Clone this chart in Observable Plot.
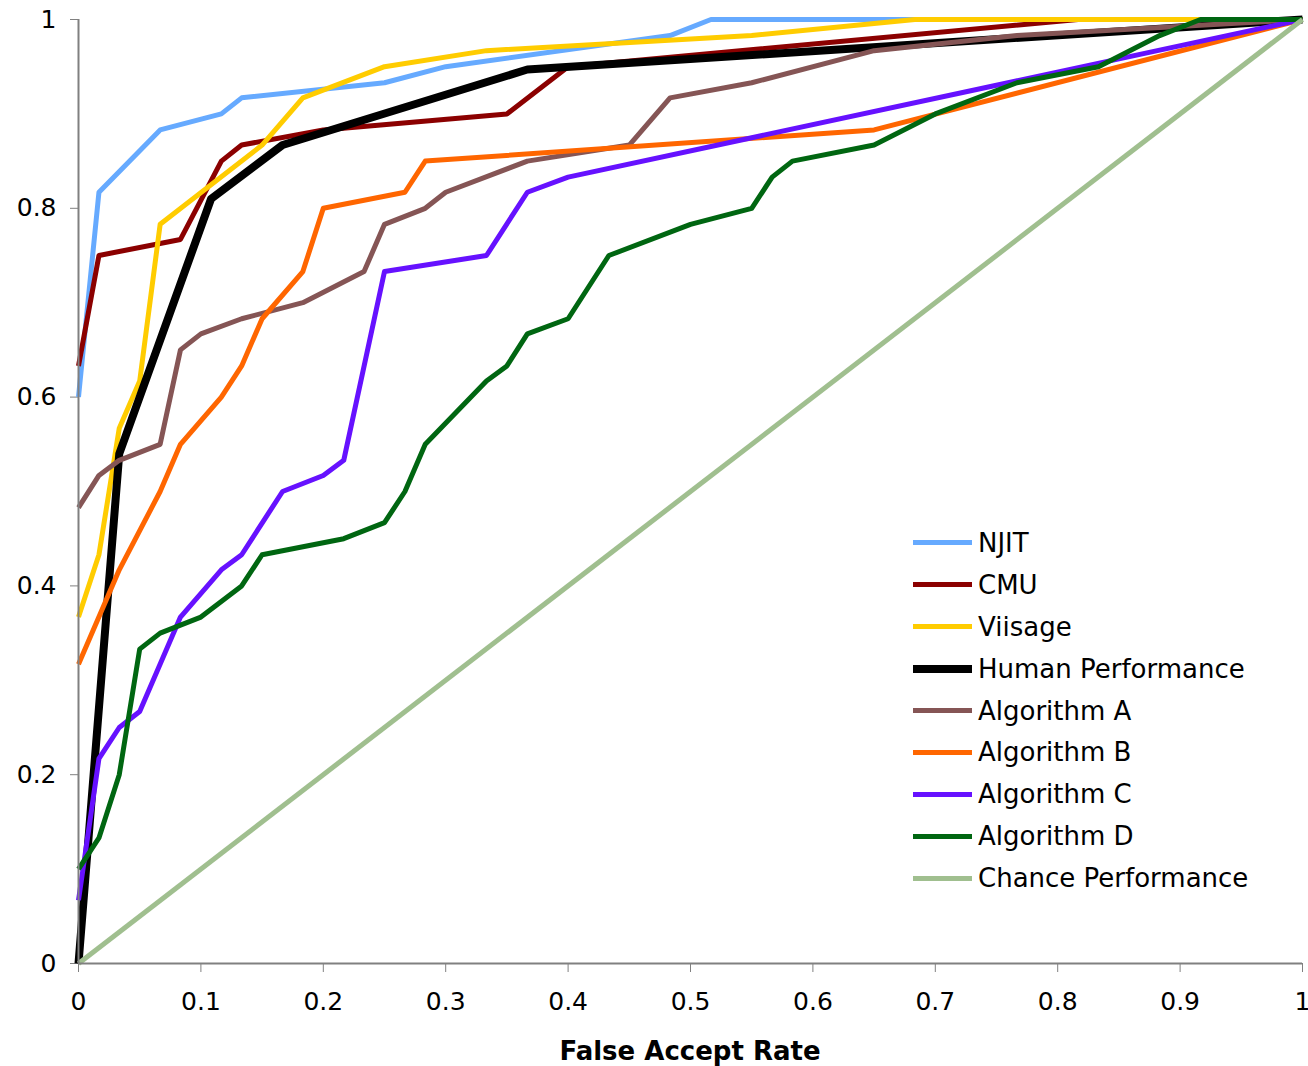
<!DOCTYPE html>
<html>
<head>
<meta charset="utf-8">
<script src="https://cdn.jsdelivr.net/npm/d3@7"></script>
<script src="https://cdn.jsdelivr.net/npm/@observablehq/plot@0.6"></script>
<style>
  html, body { margin: 0; padding: 0; background: #fff; }
  #wrap { position: relative; width: 1308px; height: 1066px; font-family: "DejaVu Sans", Verdana, sans-serif; }
  #xlabel { position: absolute; left: 78px; width: 1224px; top: 1034px; height: 34px; line-height: 34px; text-align: center; font-weight: bold; font-size: 26px; color: #000; }
  #legend { position: absolute; left: 913px; top: 522px; }
  .row { display: flex; align-items: center; height: 41.9px; }
  .sw { width: 59px; }
  .lab { margin-left: 6px; font-size: 26px; color: #000; white-space: nowrap; }
</style>
</head>
<body>
<div id="wrap">
  <div id="chart"></div>
  <div id="xlabel">False Accept Rate</div>
  <div id="legend"></div>
</div>
<script>
// ---- data ----
const seriesNames = ["NJIT", "CMU", "Viisage", "Human Performance", "Algorithm A", "Algorithm B", "Algorithm C", "Algorithm D", "Chance Performance"];
const seriesColors = ["#66AAFF", "#8B0000", "#FFCC00", "#000000", "#855555", "#FF6600", "#6611FF", "#006611", "#A0BF8F"];
const seriesWidths = [5, 5, 5, 8, 5, 5, 5, 5, 5];

const njitX = [0, 0.0167, 0.0667, 0.1167, 0.1333, 0.25, 0.3, 0.4833, 0.5167, 1];
const njitY = [0.6, 0.817, 0.883, 0.9, 0.917, 0.933, 0.95, 0.983, 1, 1];

const cmuX = [0, 0.0167, 0.0833, 0.1167, 0.1333, 0.2, 0.35, 0.4, 0.8167, 1];
const cmuY = [0.633, 0.75, 0.767, 0.85, 0.867, 0.883, 0.9, 0.95, 1, 1];

const viisageX = [0, 0.0167, 0.0333, 0.05, 0.0667, 0.15, 0.1833, 0.25, 0.3333, 0.55, 0.6833, 1];
const viisageY = [0.367, 0.433, 0.567, 0.617, 0.783, 0.867, 0.917, 0.95, 0.967, 0.983, 1, 1];

const humanX = [0, 0.0333, 0.1083, 0.1667, 0.3667, 1];
const humanY = [0, 0.54, 0.81, 0.867, 0.947, 1];

const algAX = [0, 0.0167, 0.0333, 0.0667, 0.0833, 0.1, 0.1333, 0.1833, 0.2333, 0.25, 0.2833, 0.3, 0.3667, 0.45, 0.4833, 0.55, 0.65, 0.7667, 1];
const algAY = [0.483, 0.517, 0.533, 0.55, 0.65, 0.667, 0.683, 0.7, 0.733, 0.783, 0.8, 0.817, 0.85, 0.867, 0.917, 0.933, 0.967, 0.983, 1];

const algBX = [0, 0.0333, 0.0667, 0.0833, 0.1167, 0.1333, 0.15, 0.1833, 0.2, 0.2667, 0.2833, 0.65, 1];
const algBY = [0.317, 0.417, 0.5, 0.55, 0.6, 0.633, 0.683, 0.733, 0.8, 0.817, 0.85, 0.883, 1];

const algCX = [0, 0.0167, 0.0333, 0.05, 0.0833, 0.1167, 0.1333, 0.1667, 0.2, 0.2167, 0.25, 0.3333, 0.3667, 0.4, 1];
const algCY = [0.067, 0.217, 0.25, 0.267, 0.367, 0.417, 0.433, 0.5, 0.517, 0.533, 0.733, 0.75, 0.817, 0.833, 1];

const algDX = [0, 0.0167, 0.0333, 0.05, 0.0667, 0.1, 0.1333, 0.15, 0.2167, 0.25, 0.2667, 0.2833, 0.3333, 0.35, 0.3667, 0.4, 0.4333, 0.5, 0.55, 0.5667, 0.5833, 0.65, 0.7, 0.7667, 0.8333, 0.8833, 0.9167, 1];
const algDY = [0.1, 0.133, 0.2, 0.333, 0.35, 0.367, 0.4, 0.433, 0.45, 0.467, 0.5, 0.55, 0.617, 0.633, 0.667, 0.683, 0.75, 0.783, 0.8, 0.833, 0.85, 0.867, 0.9, 0.933, 0.95, 0.983, 1, 1];

const chanceX = [0, 1];
const chanceY = [0, 1];

const xTicks = [0, 0.1, 0.2, 0.3, 0.4, 0.5, 0.6, 0.7, 0.8, 0.9, 1];
const xTickLabels = ["0", "0.1", "0.2", "0.3", "0.4", "0.5", "0.6", "0.7", "0.8", "0.9", "1"];
const yTicks = [0, 0.2, 0.4, 0.6, 0.8, 1];
const yTickLabels = ["0", "0.2", "0.4", "0.6", "0.8", "1"];

const seriesX = [njitX, cmuX, viisageX, humanX, algAX, algBX, algCX, algDX, chanceX];
const seriesY = [njitY, cmuY, viisageY, humanY, algAY, algBY, algCY, algDY, chanceY];

const rows = [];
seriesNames.forEach((name, i) => {
  seriesX[i].forEach((x, j) => rows.push({series: name, x, y: seriesY[i][j]}));
});

const lineMarks = seriesNames.map((name, i) =>
  Plot.line(rows.filter(d => d.series === name), {
    x: "x", y: "y", stroke: "series", strokeWidth: seriesWidths[i],
    strokeLinejoin: "round", strokeLinecap: "butt"
  })
);

const chart = Plot.plot({
  width: 1308,
  height: 1032,
  marginLeft: 78,
  marginRight: 6,
  marginTop: 19,
  marginBottom: 69,
  style: { fontFamily: "'DejaVu Sans', Verdana, sans-serif", fontSize: "25px", background: "#fff", color: "#000" },
  x: { domain: [0, 1] },
  y: { domain: [0, 1] },
  color: { domain: seriesNames, range: seriesColors },
  marks: [
    Plot.axisX({ ticks: xTicks, tickFormat: (d) => xTickLabels[xTicks.indexOf(d)], tickSize: 9, tickPadding: 20, stroke: "#808080", fill: "#000", label: null, fontSize: 25 }),
    Plot.axisY({ ticks: yTicks, tickFormat: (d) => yTickLabels[yTicks.indexOf(d)], tickSize: 8, tickPadding: 14, stroke: "#808080", fill: "#000", label: null, fontSize: 25 }),
    ...lineMarks,
    Plot.ruleX([0], { stroke: "#808080", strokeWidth: 2 }),
    Plot.ruleY([0], { stroke: "#808080", strokeWidth: 2 })
  ]
});
document.getElementById("chart").appendChild(chart);

// legend
const legend = document.getElementById("legend");
seriesNames.forEach((name, i) => {
  const row = document.createElement("div");
  row.className = "row";
  const sw = document.createElement("div");
  sw.className = "sw";
  sw.style.height = seriesWidths[i] + "px";
  sw.style.background = seriesColors[i];
  const lab = document.createElement("span");
  lab.className = "lab";
  lab.textContent = name;
  row.appendChild(sw);
  row.appendChild(lab);
  legend.appendChild(row);
});
</script>
</body>
</html>
